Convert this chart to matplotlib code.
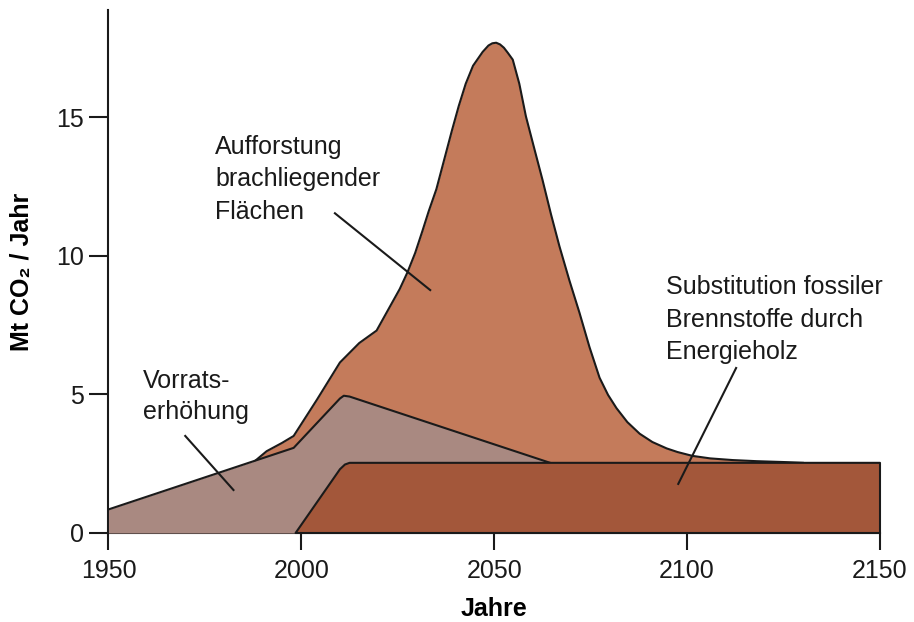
import matplotlib.pyplot as plt

plt.rcParams['font.family'] = ['Liberation Sans', 'DejaVu Sans']

# Vorratserhöhung (stock increase)
vorrat_jahre = [1950, 1998, 2010, 2011, 2012.5, 2064.5]
vorrat_werte = [0.85, 3.07, 4.85, 4.95, 4.92, 2.53]

# Aufforstung brachliegender Flächen (upper outline)
auff_jahre = [1988, 1991, 1995, 1998, 2004, 2010, 2015, 2019.5, 2023.5, 2025.5,
              2027.5, 2029.5, 2031.4, 2033, 2035, 2037, 2039, 2040.8, 2042.6,
              2044.5, 2047, 2048.5, 2049.5, 2050.5, 2051.5, 2052.5, 2053.5,
              2054.8, 2056.5, 2058.2, 2060.5, 2062.5, 2064.7, 2066.9, 2069.5,
              2072.1, 2074.7, 2077.3, 2079.5, 2081.7, 2084.5, 2087.7, 2091,
              2094.7, 2097.5, 2101.4, 2106, 2111.8, 2118, 2124.8, 2130]
auff_werte = [2.6, 2.95, 3.25, 3.5, 4.8, 6.15, 6.85, 7.3, 8.3, 8.8,
              9.4, 10.1, 10.9, 11.6, 12.4, 13.45, 14.5, 15.4, 16.2,
              16.85, 17.35, 17.58, 17.66, 17.68, 17.62, 17.5, 17.32,
              17.07, 16.2, 15.03, 13.8, 12.74, 11.5, 10.34, 9.1,
              7.94, 6.7, 5.6, 4.98, 4.5, 4.0, 3.58, 3.28,
              3.05, 2.92, 2.78, 2.69, 2.63, 2.59, 2.56, 2.53]

# Substitution fossiler Brennstoffe durch Energieholz
subst_jahre = [1998.5, 2010, 2011.3, 2012.5, 2150, 2150]
subst_werte = [0, 2.3, 2.47, 2.53, 2.53, 0]

c_auff = '#C47B5B'
c_vorrat = '#A98981'
c_subst = '#A3573A'
ink = '#1a1a1a'

fig = plt.figure(figsize=(9.14, 6.22), dpi=100)
ax = fig.add_axes([0.1187, 0.1431, 0.9628 - 0.1187, 0.9839 - 0.1431])

ax.fill_between(auff_jahre, 0, auff_werte, color=c_auff, lw=0, zorder=1)
ax.plot(auff_jahre, auff_werte, color=ink, lw=1.5, zorder=2, solid_joinstyle='round')

ax.fill_between(vorrat_jahre, 0, vorrat_werte, color=c_vorrat, lw=0, zorder=3)
ax.plot(vorrat_jahre, vorrat_werte, color=ink, lw=1.5, zorder=4, solid_joinstyle='round')

ax.fill(subst_jahre, subst_werte, facecolor=c_subst, edgecolor=ink, lw=1.5,
        zorder=5, clip_on=False, joinstyle='round')

# labels with leader lines
fs = 18
ax.text(1977.6, 14.36, 'Aufforstung\nbrachliegender\nFlächen', fontsize=fs,
        va='top', ha='left', linespacing=1.45, color=ink)
ax.plot([2008.7, 2033.4], [11.53, 8.76], color=ink, lw=1.5, zorder=6)

ax.text(1958.9, 5.9, 'Vorrats-\nerhöhung', fontsize=fs,
        va='top', ha='left', linespacing=1.35, color=ink)
ax.plot([1969.9, 1982.4], [3.5, 1.55], color=ink, lw=1.5, zorder=6)

ax.text(2094.6, 9.3, 'Substitution fossiler\nBrennstoffe durch\nEnergieholz', fontsize=fs,
        va='top', ha='left', linespacing=1.45, color=ink)
ax.plot([2112.7, 2097.7], [5.95, 1.77], color=ink, lw=1.5, zorder=6)

ax.set_xlim(1950, 2150)
ax.set_ylim(0, 18.86)
ax.set_xticks([1950, 2000, 2050, 2100, 2150])
ax.set_yticks([0, 5, 10, 15])
ax.spines['top'].set_visible(False)
ax.spines['right'].set_visible(False)
for s in ['left', 'bottom']:
    ax.spines[s].set_linewidth(1.5)
    ax.spines[s].set_color(ink)
ax.tick_params(axis='y', length=13.7, width=1.5, pad=4, labelsize=fs, colors=ink)
ax.tick_params(axis='x', length=12, width=1.5, pad=7, labelsize=fs, colors=ink)

ax.set_xlabel('Jahre', fontsize=fs, fontweight='bold', labelpad=10)
ax.set_ylabel('Mt CO₂ / Jahr', fontsize=fs, fontweight='bold', labelpad=16)

plt.savefig('out.png', dpi=100)
